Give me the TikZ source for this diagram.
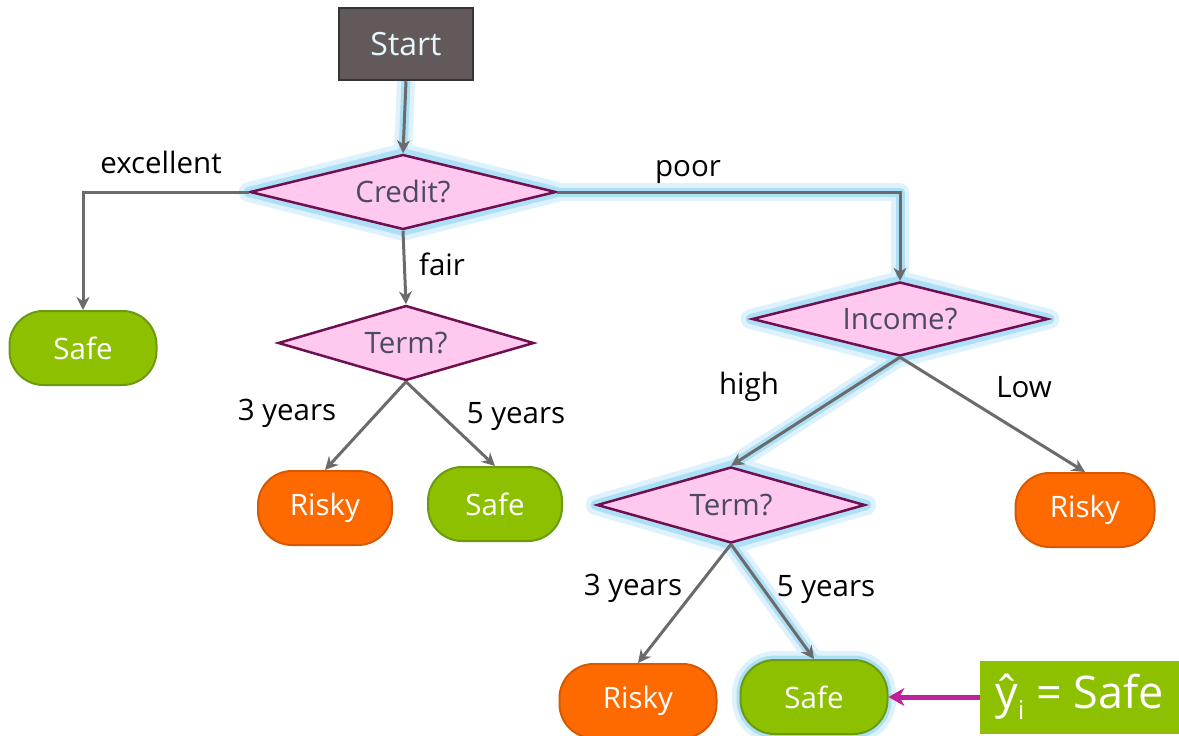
\documentclass[tikz,border=0pt]{standalone}
\usepackage{fontspec}
\setmainfont{Open Sans}
\usetikzlibrary{shapes.geometric,arrows.meta,backgrounds}
\definecolor{leafgreen}{HTML}{8DC100}
\definecolor{leafgreenb}{HTML}{6B9A10}
\definecolor{leaforange}{HTML}{FF6A00}
\definecolor{leaforangeb}{HTML}{D85800}
\definecolor{qpink}{HTML}{FFC8EF}
\definecolor{qborder}{HTML}{6E1050}
\definecolor{qtext}{HTML}{4A4A66}
\definecolor{startfill}{HTML}{625A5A}
\definecolor{startborder}{HTML}{353535}
\definecolor{edgegray}{HTML}{6B6B6B}
\definecolor{glowA}{HTML}{DDF2FC}
\definecolor{glowB}{HTML}{ADDFF6}
\definecolor{magentaarrow}{HTML}{C0209A}
\tikzset{
  x=1pt,y=-1pt,
  question/.style={diamond,aspect=4,inner sep=0pt,fill=qpink,draw=qborder,line width=2.5pt,
     text=qtext,font=\fontsize{29.5}{32}\selectfont},
  leaf/.style={rectangle,rounded corners=34pt,line width=2pt,text=white,
     minimum width=145pt,minimum height=74pt,font=\fontsize{29.5}{32}\selectfont},
  safeleaf/.style={leaf,fill=leafgreen,draw=leafgreenb},
  riskyleaf/.style={leaf,fill=leaforange,draw=leaforangeb},
  conn/.style={draw=edgegray,line width=3pt,-{Stealth[length=13pt,width=13pt]}},
  glowpath/.style={draw=glowA,line width=18pt,line join=round},
  glowpath2/.style={draw=glowB,line width=9pt,line join=round},
  lbl/.style={font=\fontsize{29.5}{32}\selectfont,text=black},
}
\begin{document}
\begin{tikzpicture}
\useasboundingbox (0,0) rectangle (1179,736);
% nodes
\node[rectangle,fill=startfill,draw=startborder,line width=2.5pt,minimum width=134pt,minimum height=72pt,
  text=white!90!cyan,font=\fontsize{32}{34}\selectfont] (start) at (406,44) {Start};
\node[question,minimum width=306pt,minimum height=75pt] (credit) at (403,192) {Credit?};
\node[safeleaf,minimum width=147pt] (safe1) at (83,348) {Safe};
\node[question,minimum width=256pt,minimum height=75pt] (term1) at (406,343) {Term?};
\node[riskyleaf,minimum width=134pt] (risky1) at (325,508) {Risky};
\node[safeleaf,minimum width=134pt] (safe2) at (495,504) {Safe};
\node[question,minimum width=296pt,minimum height=74pt] (income) at (900,319) {Income?};
\node[question,minimum width=268pt,minimum height=76pt] (term2) at (731,505) {Term?};
\node[riskyleaf,minimum width=139pt] (risky3) at (1085,510) {Risky};
\node[riskyleaf,minimum width=157pt] (risky2) at (638,701) {Risky};
\node[safeleaf,minimum width=147pt] (safe3) at (814,697) {Safe};
\node[rectangle,fill=leafgreen,minimum width=199pt,minimum height=73pt,text=white,inner sep=0pt,
  font=\fontsize{45}{47}\selectfont] (pred) at (1079.5,697) {ŷ\raisebox{-0.25em}{\fontsize{26}{26}\selectfont i} = Safe};
% glow (highlighted path)
\begin{scope}[on background layer]
  \draw[glowpath] (start.south) -- (credit.north);
  \draw[glowpath] (credit.east) -| (income.north);
  \draw[glowpath] (income.south) -- (term2.north);
  \draw[glowpath] (term2.south) -- (safe3.north);
  \foreach \n in {credit,income,term2}{
    \draw[glowA,line width=20pt,line join=round] (\n.north) -- (\n.east) -- (\n.south) -- (\n.west) -- cycle;
  }
  \draw[glowA,line width=18pt,rounded corners=34pt] (741,660) rectangle (887,734);
  \draw[glowpath2] (start.south) -- (credit.north);
  \draw[glowpath2] (credit.east) -| (income.north);
  \draw[glowpath2] (income.south) -- (term2.north);
  \draw[glowpath2] (term2.south) -- (safe3.north);
  \draw[glowB,line width=9pt,rounded corners=34pt] (741,660) rectangle (887,734);
  \foreach \n in {credit,income,term2}{
    \draw[glowB,line width=10pt,line join=round] (\n.north) -- (\n.east) -- (\n.south) -- (\n.west) -- cycle;
  }
\end{scope}
% connectors
\draw[conn] (start.south) -- (credit.north);
\draw[conn] (credit.west) -| (safe1.north);
\draw[conn] (credit.south) -- (term1.north);
\draw[conn] (credit.east) -| (income.north);
\draw[conn] (term1.south) -- (risky1.north);
\draw[conn] (term1.south) -- (safe2.north);
\draw[conn] (income.south) -- (term2.north);
\draw[conn] (income.south) -- (risky3.north);
\draw[conn] (term2.south) -- (risky2.north);
\draw[conn] (term2.south) -- (safe3.north);
\draw[draw=magentaarrow,line width=5pt,-{Stealth[length=16pt,width=18pt]}] (pred.west) -- (safe3.east);
% labels
\node[lbl] (lexc) at (161,162) {excellent};
\node[lbl] (lfair) at (442,264) {fair};
\node[lbl] (lpoor) at (688,172) {poor};
\node[lbl] (l3a) at (287,413) {3 years};
\node[lbl] (l5a) at (516,417) {5 years};
\node[lbl] (lhigh) at (749,387) {high};
\node[lbl] (llow) at (1024,387) {Low};
\node[lbl] (l3b) at (633,588) {3 years};
\node[lbl] (l5b) at (826,590) {5 years};
\end{tikzpicture}
\end{document}
